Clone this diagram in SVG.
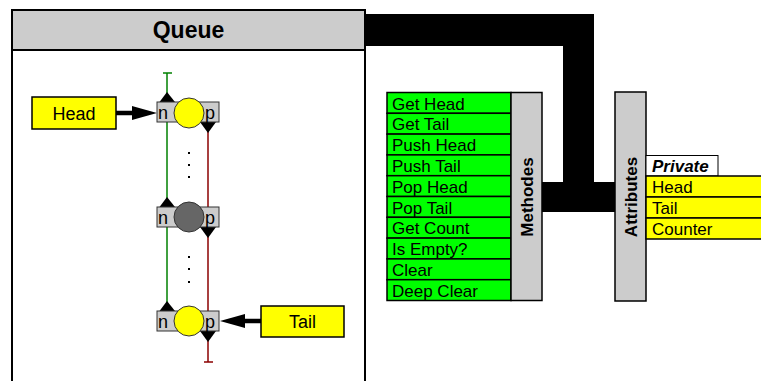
<svg xmlns="http://www.w3.org/2000/svg" width="761" height="381" viewBox="0 0 761 381">
<style>
text{font-family:"Liberation Sans",Arial,sans-serif;fill:#000}
.box{stroke:#000;stroke-width:2}
.gray{fill:#cccccc;stroke:#000;stroke-width:1.5}
.grn{fill:#00ff00;stroke:#000;stroke-width:1.5}
.yel{fill:#ffff00;stroke:#000;stroke-width:1.5}
.item{font-size:17px}
.side{font-size:17px;font-weight:bold}
.nb{fill:#cccccc;stroke:#333;stroke-width:1}
.nl{font-size:18px}
.tri{fill:#000}
</style>
<rect width="761" height="381" fill="#fff"/>
<g id="queue">
<rect x="12" y="10" width="353" height="390" fill="#fff" class="box"/>
<rect x="12" y="10" width="353" height="40" fill="#cccccc" class="box"/>
<text x="188.5" y="38" font-size="23" font-weight="bold" text-anchor="middle">Queue</text>
</g>
<g id="connectors">
<polygon points="365,14 594,14 594,182 615,182 615,212 542,212 542,182 563,182 563,46 365,46" fill="#000"/>
<line x1="167" y1="73" x2="167" y2="311" stroke="#008000" stroke-width="1.5"/>
<line x1="163" y1="73" x2="172" y2="73" stroke="#008000" stroke-width="1.5"/>
<line x1="208" y1="122" x2="208" y2="362" stroke="#8b0000" stroke-width="1.5"/>
<line x1="204" y1="362" x2="213" y2="362" stroke="#8b0000" stroke-width="1.5"/>
<line x1="116" y1="113" x2="136" y2="113" stroke="#000" stroke-width="4.5"/>
<polygon points="132,106 157,113 132,120" fill="#000"/>
<line x1="261" y1="321" x2="240" y2="321" stroke="#000" stroke-width="4.5"/>
<polygon points="245,314 220,321 245,328" fill="#000"/>
</g>
<g id="head">
<rect x="32" y="97" width="84" height="32" class="yel" stroke-width="2"/>
<text x="74" y="120" class="nl" text-anchor="middle">Head</text>
</g>
<g id="tail">
<rect x="261" y="306" width="83" height="31" class="yel" stroke-width="2"/>
<text x="302.5" y="328" class="nl" text-anchor="middle">Tail</text>
</g>
<g id="node1">
<polygon class="tri" points="159.5,102 175,102 167,92"/>
<polygon class="tri" points="200,122 216,122 208,133"/>
<rect x="157" y="102" width="62" height="20" class="nb"/>
<text x="158" y="119" class="nl">n</text>
<text x="205" y="119" class="nl">p</text>
<circle cx="189" cy="113" r="15" fill="#ffff00" stroke="#333" stroke-width="1"/>
</g>
<g id="dots1" fill="#000">
<rect x="188" y="152" width="2" height="2"/>
<rect x="188" y="164" width="2" height="2"/>
<rect x="188" y="176" width="2" height="2"/>
</g>
<g id="node2">
<polygon class="tri" points="159.5,207 175,207 167,197"/>
<polygon class="tri" points="200,227 216,227 208,238"/>
<rect x="157" y="207" width="62" height="20" class="nb"/>
<text x="158" y="224" class="nl">n</text>
<text x="205" y="224" class="nl">p</text>
<circle cx="189" cy="217" r="15" fill="#666666" stroke="#333" stroke-width="1"/>
</g>
<g id="dots2" fill="#000">
<rect x="188" y="256" width="2" height="2"/>
<rect x="188" y="268" width="2" height="2"/>
<rect x="188" y="281" width="2" height="2"/>
</g>
<g id="node3">
<polygon class="tri" points="159.5,311 175,311 167,301"/>
<polygon class="tri" points="200,331 216,331 208,342"/>
<rect x="157" y="311" width="62" height="20" class="nb"/>
<text x="158" y="328" class="nl">n</text>
<text x="205" y="328" class="nl">p</text>
<circle cx="189" cy="321" r="15" fill="#ffff00" stroke="#333" stroke-width="1"/>
</g>
<g id="methods">
<rect x="387" y="92.5" width="124" height="20.8" class="grn"/>
<rect x="387" y="113.3" width="124" height="20.8" class="grn"/>
<rect x="387" y="134.1" width="124" height="20.8" class="grn"/>
<rect x="387" y="154.9" width="124" height="20.8" class="grn"/>
<rect x="387" y="175.7" width="124" height="20.8" class="grn"/>
<rect x="387" y="196.5" width="124" height="20.8" class="grn"/>
<rect x="387" y="217.3" width="124" height="20.8" class="grn"/>
<rect x="387" y="238.1" width="124" height="20.8" class="grn"/>
<rect x="387" y="258.9" width="124" height="20.8" class="grn"/>
<rect x="387" y="279.7" width="124" height="20.8" class="grn"/>
<text x="392" y="109.5" class="item">Get Head</text>
<text x="392" y="130.3" class="item">Get Tail</text>
<text x="392" y="151.1" class="item">Push Head</text>
<text x="392" y="171.9" class="item">Push Tail</text>
<text x="392" y="192.7" class="item">Pop Head</text>
<text x="392" y="213.5" class="item">Pop Tail</text>
<text x="392" y="234.3" class="item">Get Count</text>
<text x="392" y="255.1" class="item">Is Empty?</text>
<text x="392" y="275.9" class="item">Clear</text>
<text x="392" y="296.7" class="item">Deep Clear</text>
<rect x="511" y="92.5" width="31" height="208" class="gray"/>
<text transform="translate(532.5,197) rotate(-90)" class="side" text-anchor="middle">Methodes</text>
</g>
<g id="attributes">
<rect x="615" y="92" width="31" height="209" class="gray"/>
<text transform="translate(636.5,197) rotate(-90)" class="side" text-anchor="middle">Attributes</text>
<rect x="646" y="155.5" width="72" height="20.5" fill="#fff" stroke="#000" stroke-width="1"/>
<text x="652" y="172" class="item" font-weight="bold" font-style="italic">Private</text>
<rect x="646" y="176" width="120" height="21" class="yel"/>
<rect x="646" y="197" width="120" height="21" class="yel"/>
<rect x="646" y="218" width="120" height="21" class="yel"/>
<text x="652" y="193" class="item">Head</text>
<text x="652" y="214" class="item">Tail</text>
<text x="652" y="235" class="item">Counter</text>
</g>
</svg>
